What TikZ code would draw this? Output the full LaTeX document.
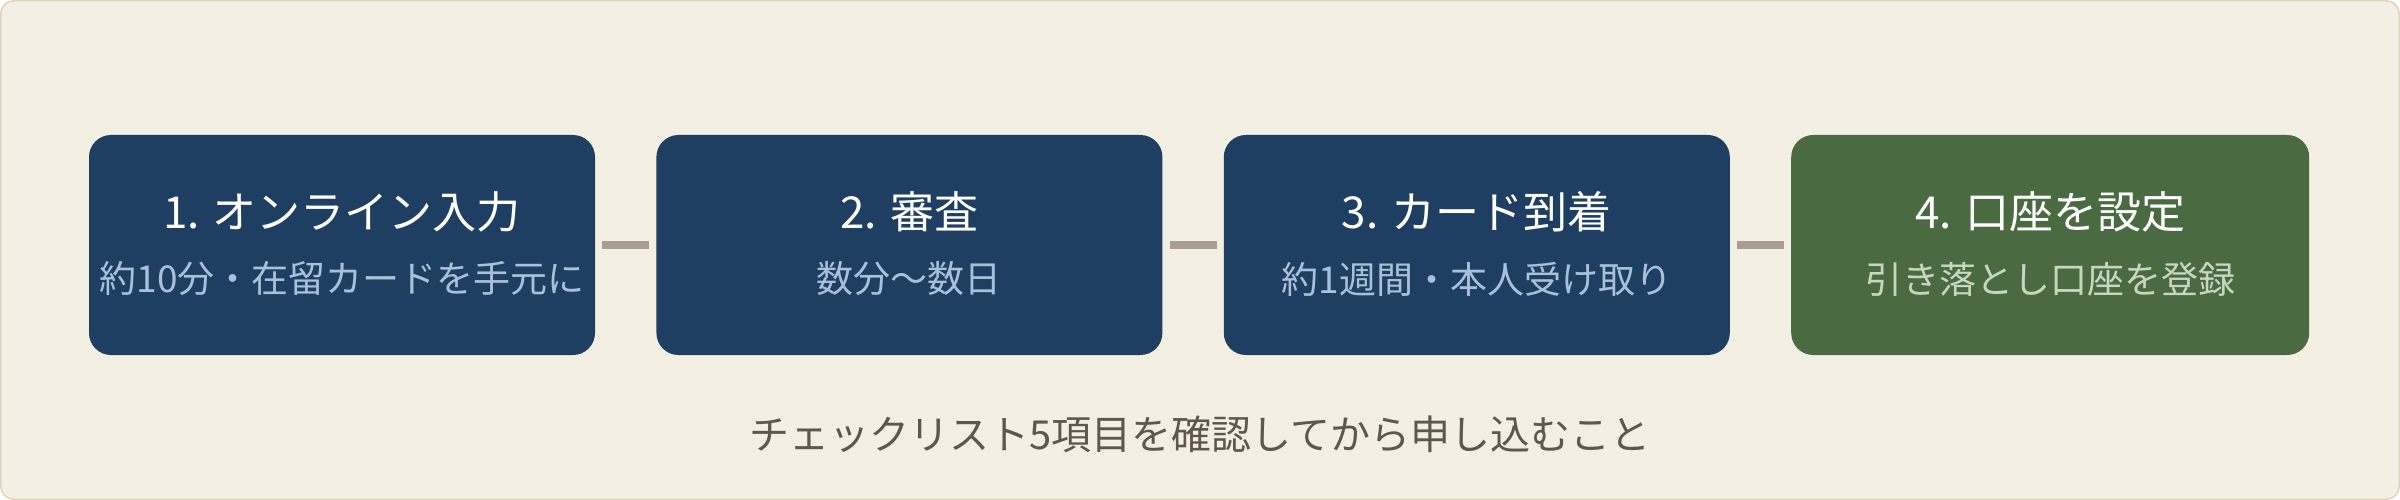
\documentclass[tikz,border=0pt]{standalone}
\usepackage{fontspec}
\setmainfont{Noto Sans CJK JP}
\usetikzlibrary{positioning}
\definecolor{paper}{HTML}{F4EFE3}
\definecolor{rim}{HTML}{DDD4BA}
\definecolor{navy}{HTML}{1E3F62}
\definecolor{moss}{HTML}{4A6B42}
\definecolor{link}{HTML}{A99E8F}
\definecolor{navysub}{HTML}{A9C0DA}
\definecolor{mosssub}{HTML}{C6D6C0}
\definecolor{memo}{HTML}{5F574C}
\begin{document}
\begin{tikzpicture}[x=1pt,y=-1pt,
  stepbox/.style={rounded corners=22pt,minimum width=506pt,minimum height=220pt,inner sep=0pt},
  steptitle/.style={text=white,inner sep=0pt,font=\fontsize{44pt}{52pt}\selectfont},
  stepsub/.style={inner sep=0pt,font=\fontsize{37pt}{45pt}\selectfont},
  joint/.style={draw=link,line width=8pt,shorten <=7pt,shorten >=7pt}]
\useasboundingbox (0,0) rectangle (2400,500);
\draw [draw=rim,fill=paper,line width=1.5pt,rounded corners=13pt] (0.75,0.75) rectangle (2399.25,499.25);
\node [stepbox,fill=navy] (apply) at (342,245) {};
\node [stepbox,fill=navy,right=61pt of apply] (review) {};
\node [stepbox,fill=navy,right=61pt of review] (card) {};
\node [stepbox,fill=moss,minimum width=518pt,right=61pt of card] (bank) {};
\node [steptitle] (applyT) at ([yshift=33pt]apply.center) {1. オンライン入力};
\node [stepsub,text=navysub] (applyS) at ([yshift=-34pt]apply.center) {約10分・在留カードを手元に};
\node [steptitle] (reviewT) at ([yshift=33pt]review.center) {2. 審査};
\node [stepsub,text=navysub] (reviewS) at ([yshift=-34pt]review.center) {数分〜数日};
\node [steptitle] (cardT) at ([yshift=33pt]card.center) {3. カード到着};
\node [stepsub,text=navysub] (cardS) at ([yshift=-34pt]card.center) {約1週間・本人受け取り};
\node [steptitle] (bankT) at ([yshift=33pt]bank.center) {4. 口座を設定};
\node [stepsub,text=mosssub] (bankS) at ([yshift=-34pt]bank.center) {引き落とし口座を登録};
\draw [joint] (apply.east) -- (review.west);
\draw [joint] (review.east) -- (card.west);
\draw [joint] (card.east) -- (bank.west);
\node [text=memo,inner sep=0pt,font=\fontsize{40pt}{48pt}\selectfont] (check) at (1200,434) {チェックリスト5項目を確認してから申し込むこと};
\end{tikzpicture}
\end{document}
